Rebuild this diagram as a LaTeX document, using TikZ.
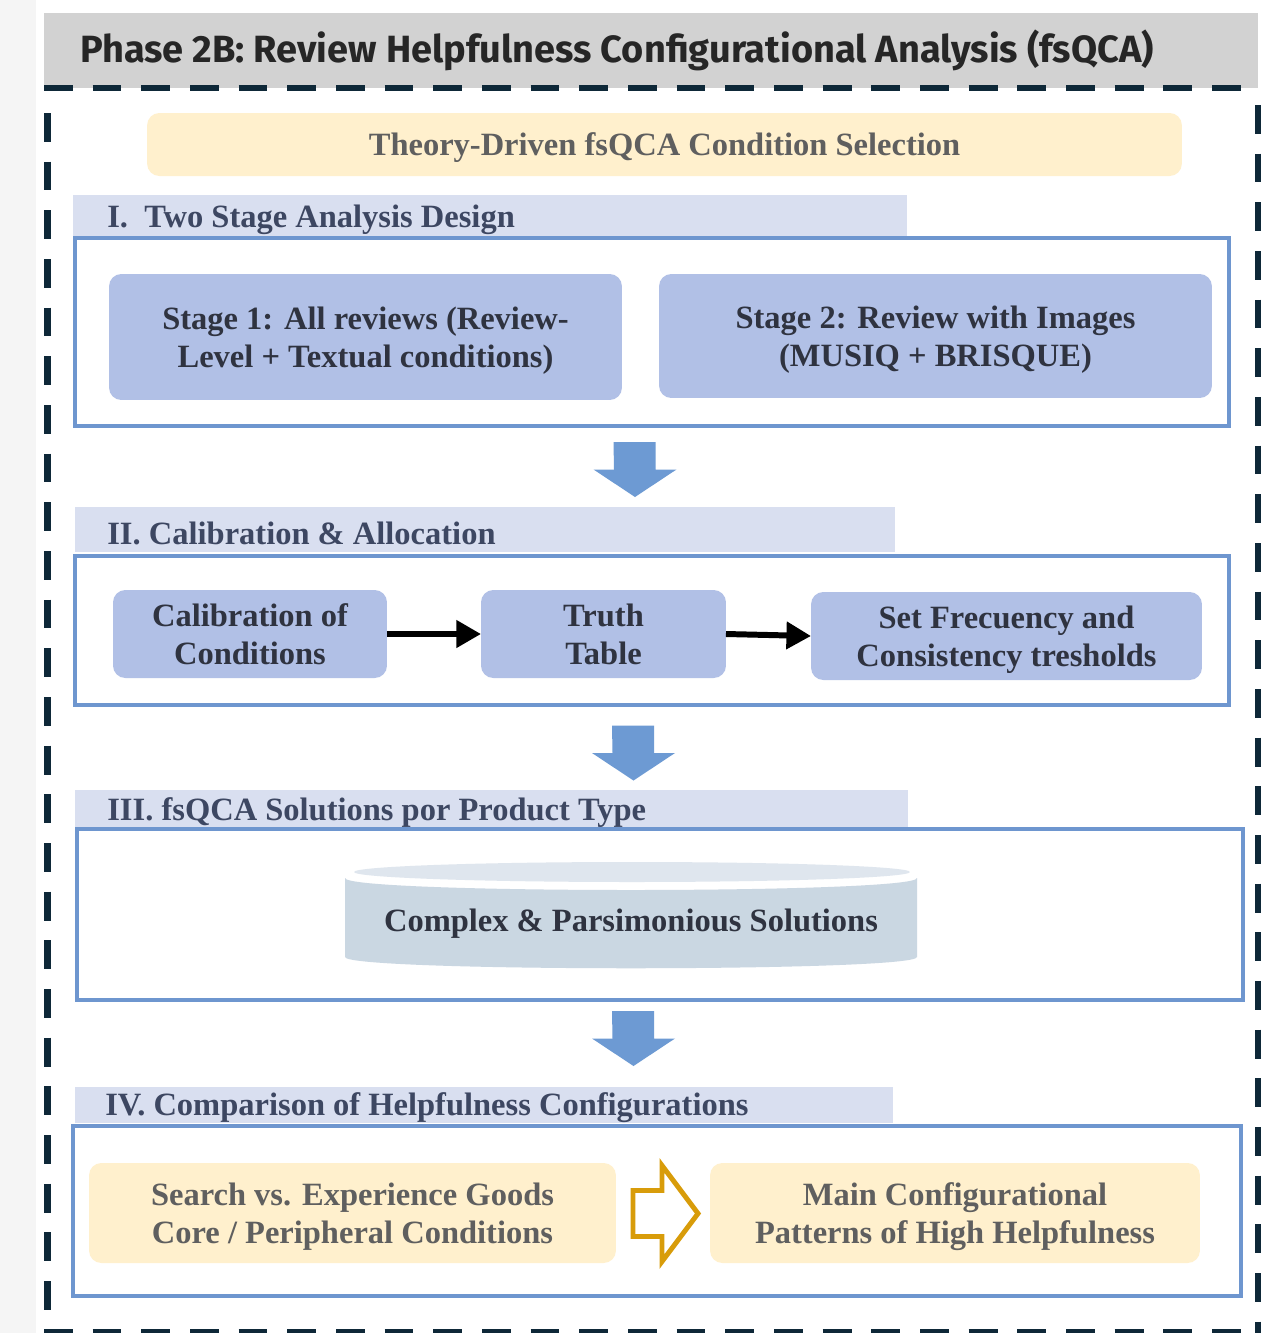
\documentclass[tikz,border=0pt]{standalone}
\usepackage{fontspec}
\setmainfont{Liberation Serif}
\newfontfamily\headfont{Fira Sans}
\usetikzlibrary{arrows.meta, calc}
\definecolor{pagegray}{RGB}{245,245,245}
\definecolor{headgray}{RGB}{210,210,210}
\definecolor{navy}{RGB}{14,40,56}
\definecolor{cream}{RGB}{255,240,205}
\definecolor{bandblue}{RGB}{217,223,240}
\definecolor{frameblue}{RGB}{110,150,207}
\definecolor{stageblue}{RGB}{177,192,230}
\definecolor{arrowblue}{RGB}{109,154,211}
\definecolor{cyltop}{RGB}{223,230,238}
\definecolor{cylbody}{RGB}{202,215,226}
\definecolor{gold}{RGB}{216,156,10}
\definecolor{graytext}{RGB}{95,95,95}
\definecolor{bandtext}{RGB}{61,71,98}
\definecolor{darktext}{RGB}{47,51,64}
\tikzstyle{stagebox} = [fill=stageblue, rounded corners=7pt, inner sep=0, outer sep=0,
    text depth=0pt, align=center, text=darktext, font=\fontsize{18.5}{21.5}\selectfont\bfseries]
\tikzstyle{creambox} = [fill=cream, rounded corners=7pt, inner sep=0, outer sep=0,
    text depth=0pt, align=center, text=graytext, font=\fontsize{18.5}{21.5}\selectfont\bfseries]
\tikzstyle{section} = [draw=frameblue, fill=white, line width=2.3pt, inner sep=0, outer sep=0]
\tikzstyle{band} = [fill=bandblue, inner sep=0, outer sep=0]
\tikzstyle{bandlabel} = [anchor=west, inner sep=0, text=bandtext,
    font=\fontsize{18.5}{21.5}\selectfont\bfseries]
\tikzstyle{frame} = [navy, line width=3.7pt, dash pattern=on 16.4pt off 11.3pt]
\newcommand{\downblock}[1]{%
  \fill[arrowblue] (#1) ++(-21,-27.5) -- ++(42,0) -- ++(0,27.5) -- ++(21,0)
    -- ++(-41.5,27.5) -- ++(-41.5,-27.5) -- ++(20.5,0) -- cycle;}

\begin{document}
\begin{tikzpicture}[x=0.02cm, y=-0.02cm]
\useasboundingbox (0,0) rectangle (1269,1333);
\fill[pagegray] (0,0) rectangle (1269,1333);
\fill[white] (36,0) rectangle (1269,1333);

%%% header
\fill[headgray] (44,13) rectangle (1258,88);
\node[inner sep=0, text=black!85, font=\headfont\fontsize{21.6}{24}\selectfont\bfseries] (title) at (617,50)
    {Phase 2B: Review Helpfulness Configurational Analysis (fsQCA)};

%%% dashed frame
\draw[frame] (44,88) -- (1258,88);
\draw[frame] (47.5,113) -- (47.5,1340);
\draw[frame] (1258,105) -- (1258,1340);
\draw[frame] (44,1332) -- (1258,1332);

\node[creambox, minimum width=20.7cm, minimum height=1.26cm] (theory) at (664.5,144.5)
    {Theory-Driven fsQCA Condition Selection};

%%% I
\node[band, minimum width=16.68cm, minimum height=0.84cm] (bandI) at (490,216) {};
\node[bandlabel] (labI) at (107,220) {I.\ \ Two Stage Analysis Design};
\node[section, minimum width=23.08cm, minimum height=3.76cm] (boxI) at (652,332) {};
\node[stagebox, minimum width=10.26cm, minimum height=2.52cm] (stage1) at (365.5,337)
    {Stage 1: All reviews (Review-\\Level + Textual conditions)};
\node[stagebox, minimum width=11.06cm, minimum height=2.48cm] (stage2) at (935.5,336)
    {Stage 2: Review with Images\\(MUSIQ + BRISQUE)};

\coordinate (arrI) at (634.5,469.5);
\downblock{arrI}

%%% II
\node[band, minimum width=16.4cm, minimum height=0.9cm] (bandII) at (485,529.5) {};
\node[bandlabel] (labII) at (107,533) {II. Calibration \& Allocation};
\node[section, minimum width=23.08cm, minimum height=2.98cm] (boxII) at (652,630.5) {};
\node[stagebox, minimum width=5.48cm, minimum height=1.76cm] (calib) at (250,634)
    {Calibration of\\Conditions};
\node[stagebox, minimum width=4.9cm, minimum height=1.76cm] (truth) at (603.5,634)
    {Truth\\Table};
\node[stagebox, minimum width=7.82cm, minimum height=1.76cm] (setfreq) at (1006.5,636)
    {Set Frecuency and\\Consistency tresholds};
\draw[line width=3.4pt, -{Triangle[length=14pt, width=15pt]}] (calib.east) -- (truth.west);
\draw[line width=3.4pt, -{Triangle[length=14pt, width=15pt]}] (truth.east) -- (setfreq.west);

\coordinate (arrII) at (633,753);
\downblock{arrII}

%%% III
\node[band, minimum width=16.66cm, minimum height=0.76cm] (bandIII) at (491.5,809) {};
\node[bandlabel] (labIII) at (107,813) {III. fsQCA Solutions por Product Type};
\node[section, minimum width=23.32cm, minimum height=3.42cm] (boxIII) at (660,914.5) {};
\fill[cylbody] (345,878) -- (345,957) .. controls (345,972) and (917,972) .. (917,957)
    -- (917,878) .. controls (917,894) and (345,894) .. (345,878) -- cycle;
\fill[cyltop] (632,872) ellipse [x radius=5.56cm, y radius=0.2cm];
\node[inner sep=0, text=darktext, font=\fontsize{18.5}{21.5}\selectfont\bfseries] (solutions) at (631,924)
    {Complex \& Parsimonious Solutions};

\coordinate (arrIII) at (633,1038.5);
\downblock{arrIII}

%%% IV
\node[band, minimum width=16.36cm, minimum height=0.72cm] (bandIV) at (484,1105) {};
\node[bandlabel] (labIV) at (105,1108) {IV. Comparison of Helpfulness Configurations};
\node[section, minimum width=23.36cm, minimum height=3.4cm] (boxIV) at (657,1211) {};
\node[creambox, minimum width=10.54cm, minimum height=2cm] (search) at (352.5,1213)
    {Search vs. Experience Goods\\Core / Peripheral Conditions};
\node[creambox, minimum width=9.8cm, minimum height=2cm] (mainpat) at (955,1213)
    {Main Configurational\\Patterns of High Helpfulness};
\coordinate (hollow) at ($(search.east)!0.5!(mainpat.west)$);
\draw[gold, fill=white, line width=2.8pt, line join=miter] (hollow) ++(-30,-22.5) -- ++(29,0) -- ++(0,-25)
    -- ++(36,48) -- ++(-36,48) -- ++(0,-25) -- ++(-29,0) -- cycle;

\end{tikzpicture}
\end{document}
